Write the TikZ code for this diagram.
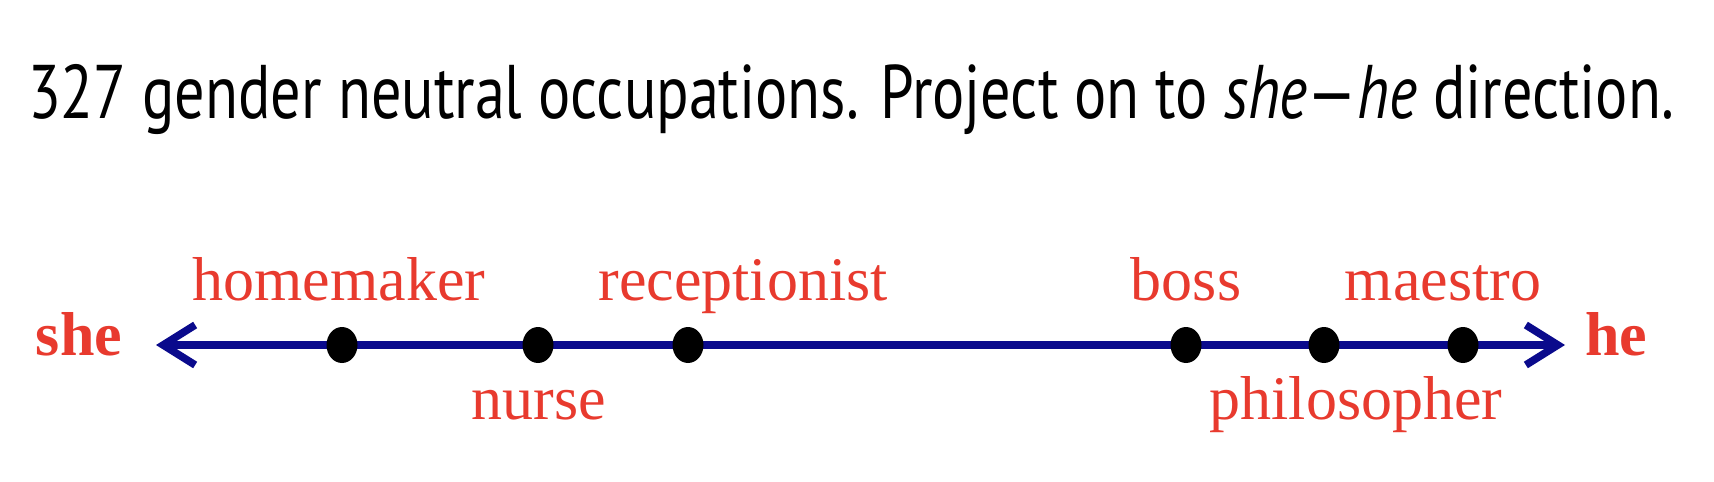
\documentclass[tikz,border=0pt]{standalone}
\usepackage{graphicx}
\usepackage{fontspec}
\setmainfont{Liberation Serif}
\newfontfamily\titlefont{PT Sans}
\usetikzlibrary{arrows.meta, positioning, shapes.geometric}
\definecolor{wordred}{RGB}{232,58,46}
\definecolor{axisblue}{RGB}{10,10,140}

\begin{document}
\begin{tikzpicture}[x=0.5pt, y=-0.5pt,
    word/.style={text=wordred, font=\fontsize{31}{31}\selectfont, anchor=base, inner sep=0pt},
    pole/.style={word, font=\fontsize{31}{31}\selectfont\bfseries},
    dot/.style={ellipse, fill=black, minimum width=15.5pt, minimum height=18pt, inner sep=0pt}]
    \useasboundingbox (0,0) rectangle (1714,482);

    % Title
    \node[anchor=base, inner sep=0pt, font=\titlefont\fontsize{38}{38}\selectfont] (title) at (851,118)
        {\resizebox{823pt}{\height}{327 gender neutral occupations. Project on to \textit{she}—\textit{he} direction.}};

    % she -- he axis
    \node[pole] (she) at (79,355) {she};
    \node[pole] (he) at (1616,355) {he};
    \coordinate (tipL) at (156,345);
    \coordinate (tipR) at (1565,345);
    \draw[axisblue, line width=3.8pt,
        {Straight Barb[length=16pt,width=20pt]}-{Straight Barb[length=16pt,width=20pt]}] (tipL) -- (tipR);

    % Occupations
    \node[dot] (homemaker) at (342,345) {};
    \node[dot] (nurse) at (538,345) {};
    \node[dot] (receptionist) at (688,345) {};
    \node[dot] (boss) at (1186,345) {};
    \node[dot] (philosopher) at (1324,345) {};
    \node[dot] (maestro) at (1463,345) {};

    \node[word] (homemakerLabel) at (339,300) {homemaker};
    \node[word] (receptionistLabel) at (743,300) {receptionist};
    \node[word] (bossLabel) at (1186,300) {boss};
    \node[word] (maestroLabel) at (1443,300) {maestro};
    \node[word] (nurseLabel) at (539,419) {nurse};
    \node[word] (philosopherLabel) at (1356,419) {philosopher};
\end{tikzpicture}
\end{document}
